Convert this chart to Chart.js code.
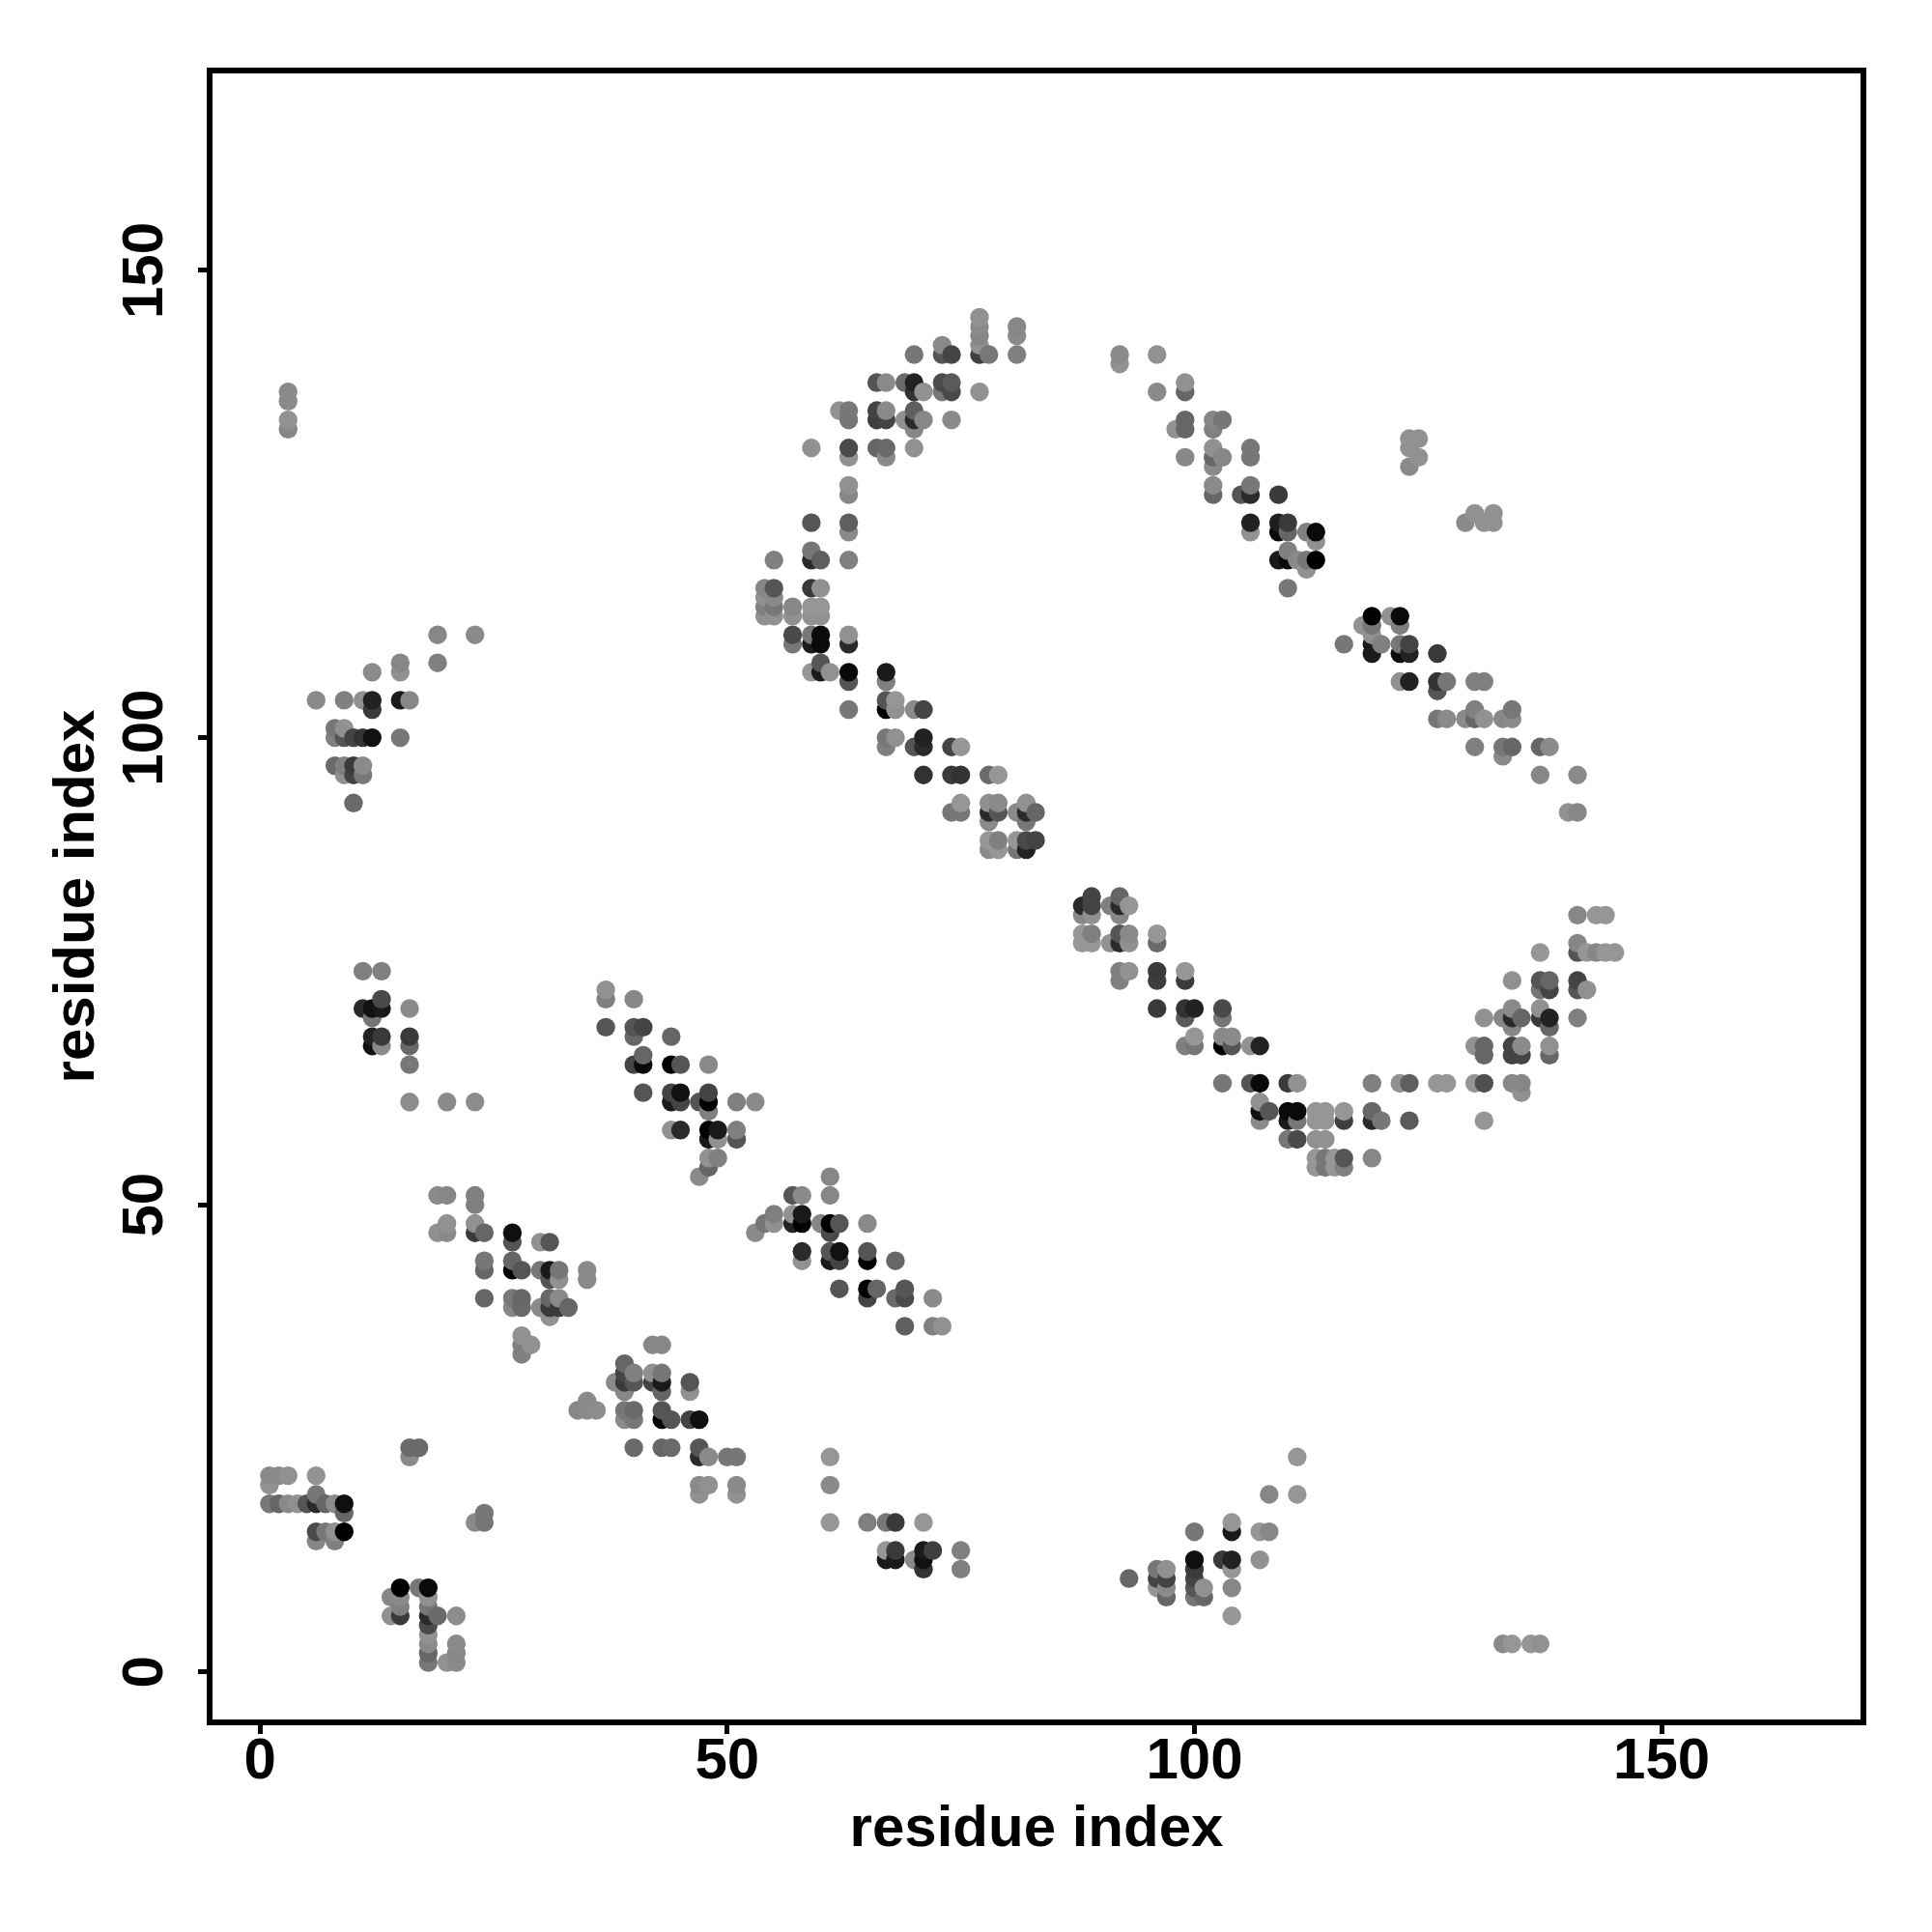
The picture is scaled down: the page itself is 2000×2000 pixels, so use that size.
<!DOCTYPE html>
<html><head><meta charset="utf-8">
<style>html,body{margin:0;padding:0;background:#fff}canvas{display:block}</style>
<script src="https://cdn.jsdelivr.net/npm/chart.js@4"></script>
</head><body><canvas id="c" width="2000" height="2000"></canvas>
<script>
// Each row: [residue y, residue x, level, residue x, level, ...]; level = grey value of the contact
const cornerContacts = [
[21,1,138,2,138,3,145,6,147],[20,1,145],[19,6,119],
[18,1,119,2,102,3,138,4,145,5,85,6,42,7,102,8,138,9,15],[17,9,102],
[15,6,74,7,119,8,145,9,0],[14,6,135,8,128],
[9,15,0,17,119,18,10],[8,14,135,15,138,18,145],[7,15,128,18,119],
[6,14,145,15,58,18,42,19,106,21,140],[5,18,74],[4,18,145],[3,18,138,21,138],
[2,18,102,21,135],[1,18,119,20,145,21,138],
[24,16,106,17,106],[23,16,138],[17,24,119],[16,23,138,24,119]];
const lowerStrandContacts = [
[29,35,138],[28,34,135,35,138,36,140,39,119,40,106,43,85],
[33,39,102],[32,39,68,40,128,42,145,43,119],
[31,38,138,39,58,40,85,42,68,43,26,46,85],[30,39,135,43,102,46,145],
[27,39,138,40,119,43,0,44,85,46,68,47,15],[24,40,106,43,102,44,106,47,85],
[23,47,42,48,138,50,119,51,119],[20,47,138,48,145,51,138],[19,47,145,51,145]];
const middleLeftContacts = [
[51,19,138,20,135,23,128],[50,23,128],[48,20,145,23,145],
[47,19,145,20,138,23,58,24,102,27,15],[46,27,85,30,145,31,85],
[44,24,119,27,102],[43,24,102,27,0,28,85,30,119,31,26,32,119,35,138],
[42,31,85,32,145,35,138],[40,24,102,27,119,28,102,31,102,32,138],
[39,27,135,28,106,30,138,31,58,32,58,33,102],[38,31,145],
[36,28,145],[35,28,128,29,145,42,135,43,135],[34,28,128]];
const middleRightContacts = [
[53,61,135],[51,57,85,58,138,61,135],[49,55,128,57,145,58,26],
[48,54,119,55,145,57,34,58,0,60,135,61,0,62,85,65,138],[47,53,138,61,74],
[45,58,42,61,85,62,17,65,85],[44,58,145,61,26,62,68,65,0,68,102],
[41,62,85,65,0,66,102,69,85],[40,65,68,68,106,69,74,72,138],
[37,69,95,72,128,73,145]];
const upperLeftContacts = [
[75,11,128,13,128],[72,13,74],[71,11,42,12,17,13,26,16,138],[70,12,119],
[68,12,34,13,58,16,58],[67,12,17,13,138,16,106],[65,16,119],[61,16,140,20,138,23,140],
[73,37,145],[72,37,128,40,135],[69,37,85,40,85,41,68],[68,40,102,44,102],[66,41,102],
[65,40,68,41,10,44,0,45,85,48,138],[62,41,85,44,68,45,17,48,68],
[61,44,26,45,68,47,85,48,0,51,128,53,138],[60,48,128],
[58,44,145,45,42,48,0,49,26,51,128],[57,48,26,49,145,51,85],
[55,48,145,49,128],[54,48,102],[53,47,138]];
const bottomContacts = [
[23,61,150,111,150],[20,61,138],[19,108,135,111,150],
[16,61,150,65,128,67,119,68,58,71,150,104,150],[15,100,119,104,26,107,150,108,135],
[13,67,150,68,58,71,26,72,63,75,128],[12,67,26,68,26,70,138,71,17,100,15,103,58,104,34,107,145],
[11,71,51,75,128,96,119,97,145,100,58,104,150],[10,93,102,96,68,97,68,100,68],
[9,96,150,97,138,100,85,101,145,104,135],[8,97,102,100,119,101,102],[6,104,150],
[3,133,138,134,150,136,150,137,145]];
const valleyLeftContacts = [
[83,89,68,92,102],[82,88,42,89,68,91,128,92,42,93,150],[81,88,135,89,145,92,135],
[79,88,150,89,128,92,85,93,138,96,150],[78,88,150,89,150,91,145,92,42,93,145,96,106],
[75,92,128,93,145,96,58,99,150],[74,92,128,96,63,99,58],
[71,96,58,99,51,100,34,103,74],[70,99,90,103,119],[68,100,150,103,138,104,138],
[67,99,128,100,119,103,0,104,85,106,145,107,34],
[63,103,119,106,85,107,10,110,58,111,145,119,128,122,145,123,95,126,150,127,150,130,150,131,79,134,135,135,135],
[62,135,145],[61,107,145],
[60,107,17,108,85,110,10,111,10,113,150,114,150,116,150,119,102],
[59,107,138,110,26,111,119,113,150,114,150,116,63,119,42,120,119,123,90,131,150],
[57,110,119,111,74,113,145,114,145],[55,113,150,114,119,115,150,116,85,119,135],
[54,113,150,114,119,115,150,116,128]];
const valleyRightContacts = [
[81,141,135,143,150,144,150],[78,141,135],[77,137,150,141,85,142,150,143,135,144,150,145,150],
[74,134,145,137,85,138,102,141,68],[73,137,119,138,68,141,85,142,145],
[71,134,138,137,145],[70,131,145,133,135,134,42,135,102,137,58,138,34,141,128],
[69,134,135,138,102],[67,130,145,131,102,134,68,135,138,138,145],
[66,131,102,134,68,135,68,138,102]];
const diagonalContacts = [
[120,59,119],[119,55,128,59,42,60,95,63,128],[116,54,135,55,85,59,58,60,145],
[115,54,145,55,138],[114,54,128,55,119,57,135,59,150,60,150],
[113,54,145,55,145,57,145,59,145,60,145],[111,57,74,59,119,60,10,63,145],
[110,57,119,59,26,60,10,63,42],[108,60,85],[107,59,150,60,26,61,145,63,10,67,26],
[106,63,85,67,128],[104,67,85,68,150],[103,63,119,67,0,68,145,70,138,71,68],
[100,67,119,68,145,71,34],[99,67,128,70,85,71,42,74,68,75,150],
[96,71,51,74,58,75,51,78,106,79,150],[93,75,150,78,145,79,138,82,145],
[92,74,119,75,119,78,42,79,85,81,138,82,42,83,102],[91,78,138,82,119],
[89,78,150,79,128,81,150,82,74,83,68],[88,78,138,79,150,81,119,82,34]];
const arcLeftContacts = [
[145,77,145],[144,77,138,81,135],[143,77,135,81,138],[142,73,138,77,145],
[141,70,119,73,85,74,68,77,63,78,119,81,128],
[138,66,85,67,138,69,106,70,34,73,74,74,90],[137,70,51,71,145,73,119,74,74,77,145],
[135,62,145,63,119,66,68,67,138,70,95],[134,63,119,66,63,67,68,69,145,70,42,71,135,74,138],
[133,70,135],[131,59,145,63,74,66,102,67,106,70,145],[130,63,145,67,138],
[127,63,145],[126,63,135],[123,59,85,63,95],[122,63,138]];
const arcRightContacts = [
[141,92,138,96,145],[140,92,145],[138,99,145],[137,96,138,99,102],
[134,99,102,102,135,103,119],[133,98,145,99,102,102,128],[131,102,145,106,119],
[130,99,135,102,102,103,135,106,119],[129,102,138],[127,102,138,106,119],
[126,102,102,105,85,106,42,109,58],[123,106,34,109,31,110,58],
[122,106,145,109,10,110,102,112,128,113,10],[121,113,145],[120,110,128],
[119,109,26,110,10,111,138,112,119,113,0],[118,112,145],[116,110,119],
[113,119,0,121,145,122,10],[112,118,145,119,119,122,128],[111,119,145],
[110,116,119,119,26,120,128,122,119,123,68],[109,119,26,122,10,123,34,126,58],
[106,122,145,123,34,126,51,127,119,130,128,131,128],[105,126,85],
[103,130,128,134,119],[102,126,119,127,138,129,138,130,102,131,145,133,135,134,138],
[99,130,128,133,119,134,102,137,102,138,138],[98,133,138],[96,137,135,141,138],[92,140,145,141,135],
[132,123,145,124,145],[131,123,145],[130,124,145],[129,123,138],
[124,130,145,132,145],[123,129,138,131,145,132,145]];
const upperLeftIsland = [
[137,3,138],[136,3,138],[134,3,145],[133,3,135],
[111,19,135,23,138],[108,15,135,19,128],[107,12,138,15,145],
[104,6,138,9,128,11,145,12,34,15,26,16,135],[103,12,58],
[101,8,119,9,145],[100,8,128,9,85,10,68,11,51,12,17,15,119],
[97,8,106,9,128,10,58,11,138],[96,9,145,10,68,11,119],[93,10,106]];

const xTickValues = [0,50,100,150];
const yTickValues = [0,50,100,150];
const axisTitle = "residue index";

const allRows = [cornerContacts,lowerStrandContacts,middleLeftContacts,middleRightContacts,
  upperLeftContacts,bottomContacts,valleyLeftContacts,valleyRightContacts,
  diagonalContacts,arcLeftContacts,arcRightContacts,upperLeftIsland].flat();
const contacts = [];
for (const row of allRows) {
  for (let i = 1; i < row.length; i += 2) contacts.push({x: row[i], y: row[0], level: row[i+1]});
}
contacts.sort((a,b) => a.x - b.x || a.y - b.y);

const framePlugin = {
  id: 'frame',
  afterDatasetsDraw(chart) {
    const {ctx, chartArea: a} = chart;
    ctx.save(); ctx.strokeStyle = '#000'; ctx.lineWidth = 6;
    ctx.strokeRect(a.left, a.top, a.right - a.left, a.bottom - a.top);
    ctx.restore();
  }
};
const font = {family: '"Liberation Sans"', weight: 'bold', size: 60};
const axisBase = (values, lo, hi) => ({
  type: 'linear', min: lo, max: hi,
  grid: {drawOnChartArea: false, drawTicks: true, tickLength: 12, color: '#000', lineWidth: 5},
  border: {display: false},
  afterBuildTicks: (s) => { s.ticks = values.map(v => ({value: v})); }
});
new Chart(document.getElementById('c'), {
  type: 'scatter',
  data: {datasets: [{
    data: contacts.map(c => ({x: c.x, y: c.y})),
    pointRadius: 9.7, pointBorderWidth: 0, pointHoverRadius: 9.7,
    pointBackgroundColor: contacts.map(c => `rgb(${c.level},${c.level},${c.level})`)
  }]},
  options: {
    responsive: false, animation: false, devicePixelRatio: 1,
    layout: {padding: {left: 0, right: 71, top: 73, bottom: 0}},
    plugins: {legend: {display: false}, tooltip: {enabled: false}},
    scales: {
      x: {...axisBase(xTickValues, -5.4, 171.6),
        afterFit: (s) => { s.height = 217; },
        ticks: {font, color: '#000', padding: -7, maxRotation: 0, minRotation: 0, autoSkip: false},
        title: {display: true, text: axisTitle, color: '#000', font, padding: {top: 0, bottom: 70}}
      },
      y: {...axisBase(yTickValues, -5.4, 171.4),
        afterFit: (s) => { s.width = 217; },
        ticks: {font, color: '#000', padding: 3, minRotation: 90, maxRotation: 90, crossAlign: 'center', autoSkip: false},
        title: {display: true, text: axisTitle, color: '#000', font, padding: {top: 44, bottom: 0}}
      }
    }
  },
  plugins: [framePlugin]
});
</script></body></html>
